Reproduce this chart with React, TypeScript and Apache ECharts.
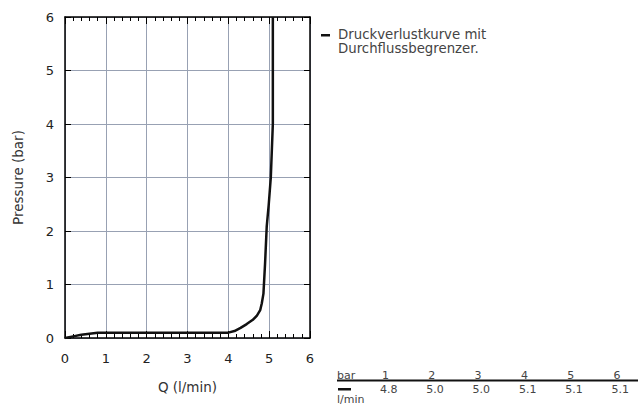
import React, { useEffect, useRef } from "react";
import * as echarts from "echarts";

const FONT = "DejaVu Sans";

// Curve: flow Q (l/min) vs pressure (bar)
const flowQ = [0, 0.2, 0.4, 0.6, 0.8, 1.0, 2.0, 3.0, 4.0, 4.15, 4.3, 4.45, 4.6, 4.7, 4.78, 4.82, 4.86, 4.9, 4.94, 4.99, 5.04, 5.09, 5.09, 5.09];
const pressureP = [0, 0.03, 0.06, 0.08, 0.1, 0.1, 0.1, 0.1, 0.1, 0.13, 0.19, 0.26, 0.34, 0.42, 0.52, 0.65, 0.83, 1.4, 2.08, 2.5, 3.0, 4.0, 5.0, 6.0];

const xTicks = [0, 1, 2, 3, 4, 5, 6];
const yTicks = [0, 1, 2, 3, 4, 5, 6];

const seriesNameLines = ["Druckverlustkurve mit", "Durchflussbegrenzer."];

// Table
const tablePressure = [1, 2, 3, 4, 5, 6];
const tableFlow = [4.8, 5.0, 5.0, 5.1, 5.1, 5.1];
const tableHeadUnit = "bar";
const tableRowUnit = "l/min";

export default function App() {
  const ref = useRef<HTMLDivElement>(null);
  useEffect(() => {
    if (!ref.current) return;
    const chart = echarts.init(ref.current, undefined, { renderer: "svg" });
    const axisCommon = {
      type: "value" as const,
      min: xTicks[0],
      max: xTicks[xTicks.length - 1],
      interval: 1,
      axisLine: { show: true, onZero: false, lineStyle: { color: "#000", width: 1.5 } },
      axisTick: { show: true, inside: true, length: 7, lineStyle: { color: "#000", width: 1 } },
    };
    const graphics: any[] = [];
    // legend
    graphics.push({ type: "rect", shape: { x: 321, y: 34, width: 9, height: 2.5 }, style: { fill: "#111" } });
    seriesNameLines.forEach((t, i) => {
      graphics.push({
        type: "text", x: 338, y: 34.5 + 14 * i,
        style: { text: t, font: `13.3px "${FONT}"`, fill: "#444", verticalAlign: "middle" },
      });
    });
    // table
    graphics.push({
      type: "text", x: 337, y: 375,
      style: { text: tableHeadUnit, font: `11px "${FONT}"`, fill: "#444", verticalAlign: "middle" },
    });
    tablePressure.forEach((p, i) => {
      graphics.push({
        type: "text", x: 382 + 46.3 * i, y: 375,
        style: { text: String(p), font: `11px "${FONT}"`, fill: "#444", verticalAlign: "middle" },
      });
      graphics.push({
        type: "text", x: 380 + 46.3 * i, y: 389.5,
        style: { text: tableFlow[i].toFixed(1), font: `11px "${FONT}"`, fill: "#444", verticalAlign: "middle" },
      });
    });
    graphics.push({ type: "rect", shape: { x: 337, y: 379.5, width: 301, height: 2 }, style: { fill: "#111" } });
    graphics.push({ type: "rect", shape: { x: 338, y: 388, width: 13, height: 2.5 }, style: { fill: "#111" } });
    graphics.push({
      type: "text", x: 337, y: 399,
      style: { text: tableRowUnit, font: `11px "${FONT}"`, fill: "#444", verticalAlign: "middle" },
    });

    chart.setOption({
      animation: false,
      textStyle: { fontFamily: FONT },
      grid: { left: 65, top: 17, width: 245, height: 321, containLabel: false },
      xAxis: [
        {
          ...axisCommon,
          position: "bottom",
          minorTick: { show: true, splitNumber: 5, length: 4, lineStyle: { color: "#000" } },
          splitLine: { show: true, lineStyle: { color: "#98a1b3", width: 1 } },
          axisLabel: { fontSize: 13, color: "#222", margin: 14, fontFamily: FONT },
          name: "Q (l/min)",
          nameLocation: "middle",
          nameGap: 42,
          nameTextStyle: { fontSize: 13.5, color: "#333", fontFamily: FONT },
        },
        {
          ...axisCommon,
          position: "top",
          minorTick: { show: true, splitNumber: 5, length: 4, lineStyle: { color: "#000" } },
          splitLine: { show: false },
          axisLabel: { show: false },
        },
      ],
      yAxis: [
        {
          ...axisCommon,
          min: yTicks[0],
          max: yTicks[yTicks.length - 1],
          position: "left",
          axisTick: { show: true, inside: true, length: 6, lineStyle: { color: "#000" } },
          splitLine: { show: true, lineStyle: { color: "#98a1b3", width: 1 } },
          axisLabel: { fontSize: 13, color: "#222", margin: 11, fontFamily: FONT },
          name: "Pressure (bar)",
          nameLocation: "middle",
          nameGap: 40,
          nameTextStyle: { fontSize: 13.5, color: "#333", fontFamily: FONT },
        },
        {
          ...axisCommon,
          min: yTicks[0],
          max: yTicks[yTicks.length - 1],
          position: "right",
          axisTick: { show: true, inside: true, length: 6, lineStyle: { color: "#000" } },
          splitLine: { show: false },
          axisLabel: { show: false },
        },
      ],
      series: [
        {
          type: "line",
          name: seriesNameLines.join(" "),
          data: flowQ.map((q, i) => [q, pressureP[i]]),
          showSymbol: false,
          smooth: false,
          clip: true,
          lineStyle: { color: "#111", width: 2.5 },
        },
      ],
      graphic: graphics,
    });
    return () => chart.dispose();
  }, []);
  return (
    <div
      ref={ref}
      style={{ position: "absolute", left: 0, top: 0, width: 638, height: 410, background: "#fff" }}
    />
  );
}
